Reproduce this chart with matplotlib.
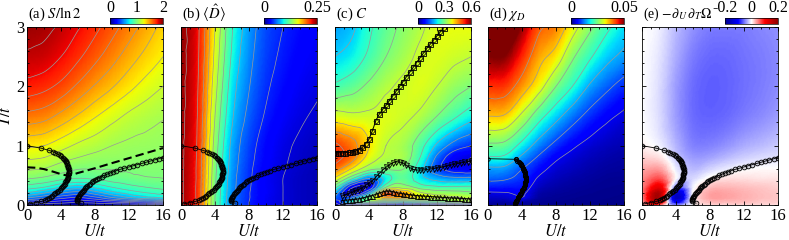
import numpy as np
import matplotlib
matplotlib.use("Agg")
import matplotlib.pyplot as plt
import matplotlib.tri as mtri
from matplotlib.colors import LinearSegmentedColormap
from matplotlib.ticker import MultipleLocator

plt.rcParams["font.family"] = ["Liberation Serif", "DejaVu Serif"]
plt.rcParams["mathtext.fontset"] = "stix"
plt.rcParams["font.size"] = 12

# grid the maps were read on
U_grid = [0, 2, 4, 6, 8, 10, 12, 14, 16]
T_grid = [0, 0.05, 0.12, 0.2, 0.3, 0.45, 0.6, 0.8, 1.0, 1.5, 2.0, 2.5, 3.0]

# (a) S/ln2, one row per T
S_vals = [
    [0.02, 0.02, 0.02, 0.02, 0.02, 0.02, 0.02, 0.02, 0.02],
    [0.25, 0.2, 0.15, 0.12, 0.15, 0.2, 0.25, 0.3, 0.35],
    [0.5, 0.42, 0.33, 0.28, 0.36, 0.48, 0.58, 0.65, 0.7],
    [0.68, 0.6, 0.5, 0.45, 0.54, 0.65, 0.73, 0.79, 0.83],
    [0.85, 0.8, 0.7, 0.65, 0.72, 0.8, 0.86, 0.9, 0.93],
    [1.01, 0.98, 0.93, 0.9, 0.92, 0.95, 0.97, 0.99, 1.0],
    [1.11, 1.09, 1.04, 1.0, 1.0, 1.0, 1.01, 1.02, 1.02],
    [1.22, 1.2, 1.14, 1.1, 1.07, 1.06, 1.05, 1.04, 1.04],
    [1.32, 1.3, 1.24, 1.18, 1.14, 1.1, 1.08, 1.07, 1.06],
    [1.57, 1.54, 1.47, 1.39, 1.31, 1.24, 1.18, 1.14, 1.11],
    [1.76, 1.73, 1.67, 1.58, 1.49, 1.41, 1.33, 1.26, 1.2],
    [1.88, 1.86, 1.8, 1.72, 1.63, 1.54, 1.45, 1.37, 1.3],
    [1.95, 1.93, 1.88, 1.81, 1.73, 1.64, 1.55, 1.46, 1.37],
]

# (b) double occupancy
D_vals = [
    [0.244, 0.213, 0.12, 0.065, 0.04, 0.027, 0.02, 0.015, 0.012],
    [0.244, 0.213, 0.12, 0.065, 0.04, 0.027, 0.02, 0.015, 0.012],
    [0.244, 0.213, 0.12, 0.066, 0.041, 0.027, 0.02, 0.015, 0.012],
    [0.244, 0.213, 0.121, 0.067, 0.041, 0.028, 0.02, 0.015, 0.012],
    [0.244, 0.213, 0.122, 0.068, 0.042, 0.028, 0.02, 0.015, 0.012],
    [0.244, 0.214, 0.124, 0.069, 0.043, 0.028, 0.02, 0.015, 0.012],
    [0.244, 0.214, 0.126, 0.071, 0.044, 0.029, 0.021, 0.016, 0.012],
    [0.244, 0.215, 0.129, 0.073, 0.046, 0.031, 0.022, 0.017, 0.013],
    [0.244, 0.216, 0.132, 0.075, 0.048, 0.032, 0.023, 0.018, 0.014],
    [0.245, 0.218, 0.14, 0.083, 0.055, 0.038, 0.028, 0.022, 0.018],
    [0.245, 0.22, 0.148, 0.09, 0.061, 0.043, 0.033, 0.026, 0.022],
    [0.246, 0.222, 0.155, 0.097, 0.066, 0.047, 0.037, 0.03, 0.025],
    [0.246, 0.223, 0.16, 0.102, 0.07, 0.05, 0.04, 0.033, 0.028],
]

# (c) specific heat
C_vals = [
    [0.0, 0.0, 0.0, 0.0, 0.0, 0.0, 0.0, 0.0, 0.0],
    [0.06, 0.22, 0.26, 0.22, 0.2, 0.22, 0.25, 0.28, 0.3],
    [0.13, 0.15, 0.3, 0.42, 0.42, 0.38, 0.36, 0.35, 0.35],
    [0.18, 0.04, 0.18, 0.5, 0.45, 0.36, 0.33, 0.32, 0.31],
    [0.27, 0.06, 0.06, 0.3, 0.33, 0.28, 0.26, 0.26, 0.26],
    [0.39, 0.26, 0.15, 0.22, 0.28, 0.22, 0.18, 0.16, 0.16],
    [0.47, 0.39, 0.31, 0.3, 0.3, 0.22, 0.12, 0.08, 0.07],
    [0.52, 0.47, 0.38, 0.34, 0.33, 0.25, 0.14, 0.07, 0.05],
    [0.51, 0.47, 0.4, 0.35, 0.33, 0.27, 0.19, 0.13, 0.1],
    [0.37, 0.36, 0.36, 0.37, 0.36, 0.34, 0.3, 0.26, 0.22],
    [0.26, 0.28, 0.31, 0.34, 0.36, 0.37, 0.35, 0.32, 0.3],
    [0.2, 0.22, 0.26, 0.3, 0.33, 0.36, 0.37, 0.36, 0.35],
    [0.17, 0.19, 0.24, 0.28, 0.31, 0.34, 0.37, 0.38, 0.38],
]

# (d) chi_D, one list per U column (T ascending)
chi_by_U = [
    [0.001, 0.0018, 0.003, 0.0045, 0.0074, 0.0112, 0.014, 0.0197, 0.0241, 0.0351, 0.043, 0.05, 0.056],
    [0.001, 0.0017, 0.0032, 0.0047, 0.0072, 0.0106, 0.0136, 0.019, 0.0234, 0.0345, 0.0425, 0.0495, 0.0555],
    [0.001, 0.0018, 0.0048, 0.0055, 0.0068, 0.0085, 0.01, 0.014, 0.0183, 0.0289, 0.0375, 0.0435, 0.049],
    [0.0008, 0.001, 0.0015, 0.002, 0.003, 0.0045, 0.0064, 0.0093, 0.0128, 0.022, 0.032, 0.0367, 0.041],
    [0.0007, 0.0008, 0.001, 0.0013, 0.0018, 0.0027, 0.0037, 0.0057, 0.0086, 0.0167, 0.025, 0.0329, 0.0385],
    [0.0006, 0.0007, 0.0008, 0.001, 0.0013, 0.0019, 0.0027, 0.0038, 0.0056, 0.0121, 0.0198, 0.0256, 0.032],
    [0.0005, 0.0006, 0.0007, 0.0008, 0.001, 0.0014, 0.0019, 0.0027, 0.0038, 0.0085, 0.0144, 0.0206, 0.026],
    [0.0005, 0.0005, 0.0006, 0.0007, 0.0008, 0.001, 0.0014, 0.002, 0.0028, 0.0059, 0.011, 0.0164, 0.021],
    [0.0004, 0.0004, 0.0005, 0.0006, 0.0007, 0.0009, 0.0012, 0.0016, 0.0022, 0.0043, 0.0082, 0.0138, 0.0175],
]

# (e) -dU dT Omega
E_vals = [
    [0.01, 0.06, -0.04, 0.0, 0.015, 0.015, 0.015, 0.015, 0.012],
    [0.03, 0.14, -0.1, 0.0, 0.025, 0.025, 0.025, 0.02, 0.018],
    [0.045, 0.17, -0.15, 0.0, 0.035, 0.035, 0.03, 0.025, 0.022],
    [0.05, 0.17, -0.13, 0.0, 0.035, 0.035, 0.03, 0.025, 0.022],
    [0.05, 0.12, -0.05, -0.005, 0.025, 0.028, 0.025, 0.022, 0.018],
    [0.045, 0.07, 0.0, -0.015, 0.005, 0.012, 0.012, 0.01, 0.01],
    [0.035, 0.04, -0.006, -0.026, -0.015, -0.006, 0.0, 0.002, 0.002],
    [0.018, 0.012, -0.02, -0.038, -0.035, -0.026, -0.018, -0.013, -0.011],
    [0.006, -0.004, -0.028, -0.048, -0.048, -0.041, -0.032, -0.026, -0.02],
    [0.0, -0.013, -0.038, -0.057, -0.061, -0.058, -0.051, -0.045, -0.038],
    [0.0, -0.013, -0.038, -0.057, -0.063, -0.061, -0.056, -0.051, -0.045],
    [0.0, -0.01, -0.032, -0.051, -0.059, -0.059, -0.055, -0.051, -0.046],
    [0.0, -0.006, -0.026, -0.042, -0.051, -0.052, -0.051, -0.047, -0.043],
]

# boundary curves (circles) shown in (a), (b), (e)
left_T = [1.0, 0.96, 0.92, 0.9, 0.88, 0.86, 0.84, 0.82, 0.8, 0.78, 0.76, 0.74, 0.72, 0.70,
          0.68, 0.66, 0.64, 0.62, 0.60, 0.58, 0.56, 0.54, 0.52, 0.50, 0.48, 0.46, 0.44, 0.42,
          0.40, 0.38, 0.36, 0.34, 0.32, 0.30, 0.28, 0.26, 0.24, 0.22, 0.20, 0.18, 0.16, 0.14,
          0.12, 0.10, 0.08, 0.06, 0.04, 0.02]
left_U = [0.0, 1.6, 2.6, 3.0, 3.35, 3.6, 3.85, 4.05, 4.2, 4.35, 4.45, 4.55, 4.63, 4.7,
          4.75, 4.8, 4.84, 4.87, 4.89, 4.9, 4.9, 4.89, 4.87, 4.85, 4.82, 4.78, 4.73, 4.67,
          4.6, 4.52, 4.43, 4.33, 4.22, 4.1, 3.97, 3.83, 3.68, 3.52, 3.35, 3.17, 2.98, 2.78,
          2.57, 2.35, 2.1, 1.7, 1.0, 0.3]
right_T = [0.03, 0.06, 0.08, 0.10, 0.12, 0.14, 0.16, 0.18, 0.20, 0.22, 0.24, 0.26, 0.28, 0.30,
           0.32, 0.34, 0.36, 0.38, 0.40, 0.42, 0.44, 0.46, 0.48, 0.50, 0.52, 0.54, 0.56, 0.58,
           0.60, 0.62, 0.64, 0.66, 0.68, 0.70, 0.72, 0.74, 0.76, 0.78, 0.80, 0.82]
right_U = [6.35, 5.85, 5.85, 5.9, 5.95, 6.05, 6.15, 6.25, 6.35, 6.45, 6.55, 6.7, 6.82, 6.95,
           7.1, 7.25, 7.42, 7.6, 7.8, 8.02, 8.25, 8.5, 8.78, 9.1, 9.42, 9.75, 10.1, 10.5,
           10.95, 11.45, 11.95, 12.45, 12.95, 13.5, 14.0, 14.5, 15.0, 15.5, 15.95, 16.4]

# dashed line in (a)
dash_U = [0, 1, 2, 3, 4, 4.9, 6, 8, 10, 12, 14, 16]
dash_T = [0.635, 0.628, 0.605, 0.565, 0.52, 0.49, 0.54, 0.62, 0.706, 0.79, 0.875, 0.96]

# (c) peak lines
sq_U = [0, 0.4, 0.8, 1.2, 1.6, 2.0, 2.4, 2.8, 3.2, 3.6, 4.0, 4.4, 4.8, 5.2, 5.6, 6.0, 6.4,
        6.8, 7.2, 7.6, 8.0, 8.4, 8.8, 9.2, 9.6, 10.0, 10.4, 10.8, 11.2, 11.6, 12.0, 12.4, 12.8, 13.2]
sq_T = [0.88, 0.88, 0.88, 0.882, 0.885, 0.893, 0.905, 0.93, 0.97, 1.03, 1.11, 1.25, 1.42, 1.53,
        1.61, 1.68, 1.76, 1.84, 1.92, 2.0, 2.08, 2.16, 2.24, 2.32, 2.4, 2.48, 2.56, 2.64, 2.71,
        2.78, 2.85, 2.92, 2.99, 3.06]
dn_U = [0.8, 1.2, 1.6, 2.0, 2.4, 2.8, 3.2, 3.6, 4.0, 4.4, 4.8, 5.2, 5.6, 6.0, 6.4, 6.8, 7.2,
        7.6, 8.0, 8.4, 8.8, 9.2, 9.6, 10.0, 10.4, 10.8, 11.2, 11.6, 12.0, 12.4, 12.8, 13.2,
        13.6, 14.0, 14.4, 14.8, 15.2, 15.6, 16.0]
dn_T = [0.15, 0.17, 0.19, 0.215, 0.24, 0.26, 0.29, 0.33, 0.37, 0.41, 0.47, 0.53, 0.59, 0.635,
        0.68, 0.71, 0.73, 0.725, 0.71, 0.67, 0.63, 0.6, 0.59, 0.588, 0.59, 0.6, 0.607, 0.615,
        0.623, 0.632, 0.645, 0.658, 0.672, 0.685, 0.697, 0.71, 0.72, 0.73, 0.74]
up_U = dn_U
up_T = [0.075, 0.08, 0.085, 0.09, 0.095, 0.105, 0.115, 0.13, 0.145, 0.16, 0.18, 0.2, 0.22,
        0.233, 0.235, 0.225, 0.21, 0.198, 0.188, 0.18, 0.172, 0.165, 0.16, 0.155, 0.15, 0.146,
        0.142, 0.138, 0.134, 0.13, 0.127, 0.123, 0.12, 0.117, 0.114, 0.111, 0.108, 0.105, 0.102]

# (d) line
chi_line_T = [0.78, 0.77, 0.75, 0.73, 0.71, 0.69, 0.67, 0.65, 0.63, 0.61, 0.59, 0.57, 0.55, 0.53,
              0.51, 0.49, 0.47, 0.45, 0.43, 0.41, 0.39, 0.37, 0.35, 0.33, 0.31, 0.29, 0.27, 0.25,
              0.23, 0.21, 0.19, 0.17, 0.15, 0.13, 0.11, 0.09, 0.07, 0.05, 0.03, 0.01]
chi_line_U = [0.0, 3.3, 3.45, 3.6, 3.72, 3.83, 3.93, 4.02, 4.1, 4.17, 4.23, 4.28, 4.32, 4.36,
              4.39, 4.41, 4.42, 4.43, 4.43, 4.42, 4.4, 4.37, 4.34, 4.3, 4.25, 4.19, 4.12, 4.05,
              3.97, 3.89, 3.81, 3.73, 3.65, 3.57, 3.49, 3.41, 3.34, 3.28, 3.23, 3.2]

# smooth the coarse grids with matplotlib's cubic triangle refiner
nx, ny = len(U_grid), len(T_grid)
UU, TT = np.meshgrid(U_grid, T_grid)
tris = []
for j in range(ny - 1):
    for i in range(nx - 1):
        a = j * nx + i
        tris.append([a, a + 1, a + nx + 1])
        tris.append([a, a + nx + 1, a + nx])
base = mtri.Triangulation(UU.ravel() / 16.0, TT.ravel() / 3.0, tris)
refiner = mtri.UniformTriRefiner(base)


def smooth(z):
    z = np.asarray(z, float).ravel()
    interp = mtri.CubicTriInterpolator(base, z, kind="geom")
    rt, rz = refiner.refine_field(z, triinterpolator=interp, subdiv=4)
    return mtri.Triangulation(rt.x * 16, rt.y * 3, rt.triangles), rz


rwb = LinearSegmentedColormap.from_list(
    "rwb", ["#00008c", "#0000ff", "#ffffff", "#ff0000", "#8c0000"])

panels = [
    (S_vals, "jet", 0, 2, np.arange(0.1, 1.95, 0.1), [0, 1, 2], ["0", "1", "2"],
     r"(a) $S/\ln2$"),
    (D_vals, "jet", 0, 0.25, np.arange(0.02, 0.245, 0.02), [0, 0.25], ["0", "0.25"],
     r"(b) $\langle\hat{D}\rangle$"),
    (C_vals, "jet", 0, 0.6, np.arange(0.05, 0.56, 0.05), [0, 0.3, 0.6], ["0", "0.3", "0.6"],
     r"(c) $C$"),
    (np.array(chi_by_U).T, "jet", 0, 0.05, np.arange(0.005, 0.041, 0.005), [0, 0.05],
     ["0", "0.05"], r"(d) $\chi_D$"),
    (E_vals, rwb, -0.2, 0.2, None, [-0.2, 0, 0.2], ["-0.2", "0", "0.2"],
     r"(e) $-\partial_U\,\partial_T\Omega$"),
]

W, H = 789, 240
fig = plt.figure(figsize=(W / 100, H / 100), dpi=100)
lefts = [27, 181, 335, 488, 642]
aw, top, bot = 136, 27, 205

circ = dict(color="k", lw=0.6, marker="o", ms=3.4, mec="k", mew=0.6, mfc=(0, 0, 0, 0.15))

for k, (vals, cmap, vmin, vmax, levels, cticks, clabels, title) in enumerate(panels):
    ax = fig.add_axes([lefts[k] / W, (H - bot) / H, aw / W, (bot - top) / H])
    tri, z = smooth(vals)
    m = ax.tripcolor(tri, z, shading="gouraud", cmap=cmap, vmin=vmin, vmax=vmax,
                     rasterized=True)
    if levels is not None:
        ax.tricontour(tri, z, levels=levels, colors="0.6", linewidths=0.5)

    if k in (0, 1, 4):
        ax.plot(left_U, left_T, **circ)
        ax.plot(right_U, right_T, **circ)
    if k == 0:
        ax.plot(dash_U, dash_T, color="k", lw=1.5, ls=(0, (4, 2)))
    if k == 2:
        ax.plot(sq_U, sq_T, color="k", lw=0.7, marker="s", ms=3.6, mfc="none", mec="k", mew=0.6)
        ax.plot(sq_U, sq_T, ls="none", marker="D", ms=2.6, mfc="none", mec="k", mew=0.5)
        ax.plot(dn_U, dn_T, color="k", lw=0.7, marker="v", ms=3.6, mfc="none", mec="k", mew=0.6)
        ax.plot(up_U, up_T, color="k", lw=0.7, marker="^", ms=3.6, mfc="none", mec="k", mew=0.6)
    if k == 3:
        ax.plot(chi_line_U[:2], chi_line_T[:2], color="k", lw=0.6, marker="o", ms=2.5,
                mfc="none", mec="k", mew=0.6)
        ax.plot(chi_line_U[1:], chi_line_T[1:], color="k", lw=1.0, marker="o", ms=3.0,
                mec="k", mew=0.7, mfc=(0, 0, 0, 0.3))

    ax.set_xlim(0, 16)
    ax.set_ylim(0, 3)
    ax.set_xticks([0, 4, 8, 12, 16])
    ax.set_yticks([0, 1, 2, 3])
    ax.xaxis.set_minor_locator(MultipleLocator(1))
    ax.yaxis.set_minor_locator(MultipleLocator(0.2))
    ax.tick_params(which="both", direction="in", top=True, right=True, width=0.6)
    ax.tick_params(which="major", length=3, pad=2, labelsize=12)
    ax.tick_params(which="minor", length=1.5)
    for sp in ax.spines.values():
        sp.set_linewidth(0.6)
    ax.set_xlabel(r"$U/t$", fontsize=12, labelpad=0)
    if k == 0:
        ax.set_ylabel(r"$T/t$", fontsize=12, labelpad=1)
    else:
        ax.set_yticklabels([])
    ax.text(0.005, 1.02, title, transform=ax.transAxes, ha="left", va="bottom",
            fontsize=10 if k == 4 else 10.5)

    # colorbar above the right half of the panel
    cw = 53
    cax = fig.add_axes([(lefts[k] + aw - cw) / W, (H - 24) / H, cw / W, 6 / H])
    cb = fig.colorbar(m, cax=cax, orientation="horizontal")
    cb.set_ticks(cticks)
    cb.set_ticklabels(clabels)
    cax.xaxis.set_ticks_position("top")
    cax.tick_params(length=0, pad=1.5, labelsize=11.5)
    cb.outline.set_linewidth(0.5)

fig.savefig("out.png", dpi=100)
